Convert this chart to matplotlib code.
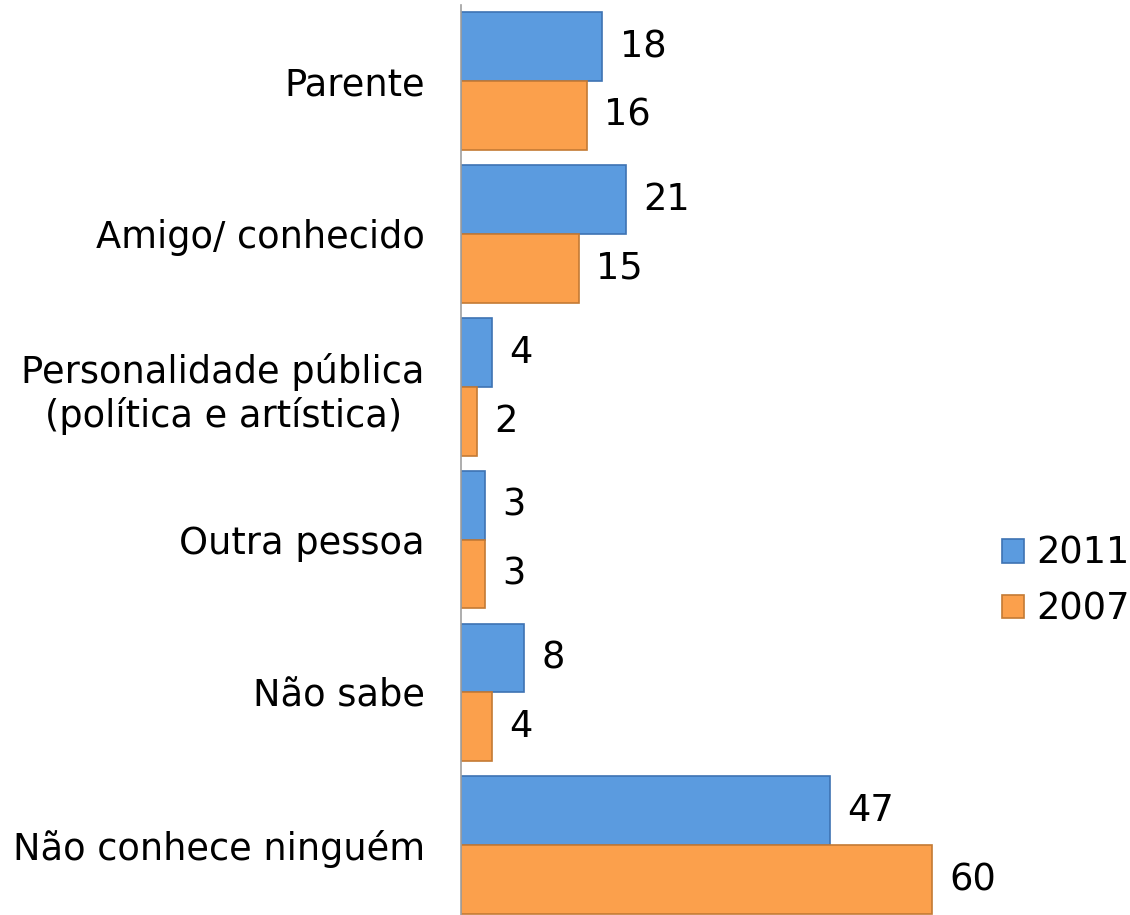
import numpy as np
import matplotlib
matplotlib.use('Agg')
import matplotlib.pyplot as plt

categorias = ['Parente', 'Amigo/ conhecido', 'Personalidade pública\n(política e artística)',
              'Outra pessoa', 'Não sabe', 'Não conhece ninguém']
v2011 = [18, 21, 4, 3, 8, 47]
v2007 = [16, 15, 2, 3, 4, 60]

azul = '#5B9BDF'
laranja = '#FBA04C'

fig = plt.figure(figsize=(11.3, 9.15), dpi=100)
ax = fig.add_axes([0.408, -0.0073, 0.486, 1.0022])

y = np.arange(len(categorias))
h = 0.45
b1 = ax.barh(y - h / 2, v2011, height=h, color=azul, edgecolor='#3E73B3', linewidth=1.2, label='2011')
b2 = ax.barh(y + h / 2, v2007, height=h, color=laranja, edgecolor='#C47A34', linewidth=1.2, label='2007')

for bars, vals in ((b1, v2011), (b2, v2007)):
    for r, v in zip(bars, vals):
        ax.text(r.get_width() + 2.2, r.get_y() + r.get_height() / 2, str(v),
                va='center', ha='left', fontsize=26.5)

ax.set_xlim(0, 70)
ax.set_ylim(len(categorias) - 0.5, -0.5)
ax.set_yticks(y)
ax.set_yticklabels(categorias, fontsize=26.5, multialignment='center')
ax.tick_params(axis='y', length=0, pad=26)
ax.set_xticks([])
for s in ('top', 'right', 'bottom'):
    ax.spines[s].set_visible(False)
ax.spines['left'].set_color('#A0A0A0')
ax.spines['left'].set_linewidth(1.2)

fig.legend(loc='center left', bbox_to_anchor=(0.857, 0.365), frameon=False, fontsize=26.5,
           handlelength=0.6, handleheight=0.6, handletextpad=0.35, labelspacing=0.5)

fig.savefig('out.png', dpi=100)
